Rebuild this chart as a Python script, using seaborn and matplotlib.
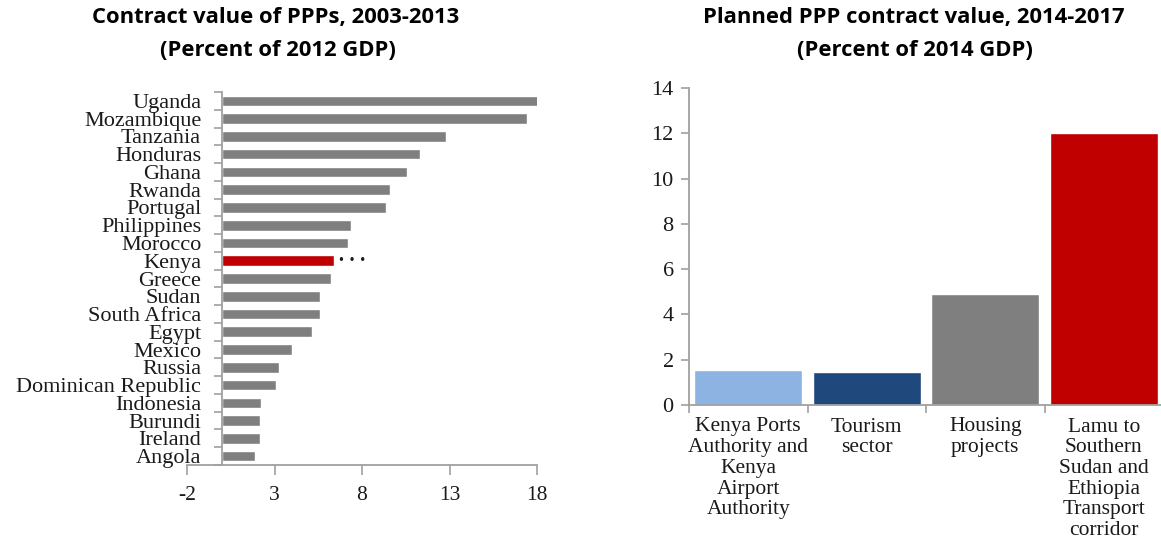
import matplotlib
matplotlib.use("Agg")
import matplotlib.pyplot as plt
import seaborn as sns
import numpy as np

# left panel data: contract value of PPPs 2003-2013 (% of 2012 GDP)
countries = ["Uganda", "Mozambique", "Tanzania", "Honduras", "Ghana", "Rwanda",
             "Portugal", "Philippines", "Morocco", "Kenya", "Greece", "Sudan",
             "South Africa", "Egypt", "Mexico", "Russia", "Dominican Republic",
             "Indonesia", "Burundi", "Ireland", "Angola"]
ppp_values = [18.1, 17.4, 12.8, 11.3, 10.55, 9.6, 9.35, 7.35, 7.2, 6.4, 6.2,
              5.6, 5.6, 5.15, 4.0, 3.25, 3.1, 2.25, 2.15, 2.15, 1.9]
left_xticks = [-2, 3, 8, 13, 18]

# right panel data: planned PPP contract value 2014-2017 (% of 2014 GDP)
projects = ["Kenya Ports\nAuthority and\nKenya\nAirport\nAuthority",
            "Tourism\nsector",
            "Housing\nprojects",
            "Lamu to\nSouthern\nSudan and\nEthiopia\nTransport\ncorridor"]
planned_values = [1.55, 1.45, 4.9, 12.0]
right_yticks = [0, 2, 4, 6, 8, 10, 12, 14]

sns.set_style("white")
plt.rcParams['font.family'] = ['Liberation Serif', 'DejaVu Serif']

GRAY = "#7F7F7F"
RED = "#C00000"
SPINE = "#A0A0A0"
TXT = "#1A1A1A"

fig = plt.figure(figsize=(11.61, 5.40), dpi=100)

# ---------------- left panel
ax1 = fig.add_axes([187/1161, 1-465/540, 350/1161, 373/540])
pal = {c: (RED if c == "Kenya" else GRAY) for c in countries}
sns.barplot(x=ppp_values, y=countries, hue=countries, palette=pal,
            orient='h', width=0.6, legend=False, saturation=1, ax=ax1)
ax1.set_xlim(-2, 18)
ax1.set_ylim(len(countries)-0.5, -0.5)
ax1.set_xticks(left_xticks)
ax1.set_xticklabels([str(v) for v in left_xticks])
for s in ["top", "right"]:
    ax1.spines[s].set_visible(False)
ax1.spines['left'].set_position(('data', 0))
for s in ["left", "bottom"]:
    ax1.spines[s].set_color(SPINE)
    ax1.spines[s].set_linewidth(1.3)
ax1.set_yticks(np.arange(-0.5, len(countries), 1), minor=True)
ax1.tick_params(axis='y', which='major', left=True, length=0, pad=15,
                labelsize=16, labelcolor=TXT)
ax1.tick_params(axis='y', which='minor', left=True, length=6, width=1.2,
                color=SPINE, direction='out')
ax1.tick_params(axis='x', which='major', bottom=True, length=7, width=1.2,
                color=SPINE, direction='out', pad=8, labelsize=15.5, labelcolor=TXT)
ax1.set_xlabel("")
ax1.set_ylabel("")
kenya_i = countries.index("Kenya")
# the three dots after the Kenya bar
ax1.text(ppp_values[kenya_i] + 0.25, kenya_i, "\u2022 \u2022 \u2022", fontsize=8.5,
         va='center', ha='left', color=TXT, family=['DejaVu Sans'])

# ---------------- right panel
ax2 = fig.add_axes([689/1161, 1-405/540, 474/1161, 317/540])
cols = {projects[0]: "#8DB3E2", projects[1]: "#1F497D",
        projects[2]: GRAY, projects[3]: RED}
sns.barplot(x=projects, y=planned_values, hue=projects, palette=cols,
            width=0.91, legend=False, saturation=1, ax=ax2)
ax2.set_xlim(-0.5, 3.5)
ax2.set_ylim(0, 14)
ax2.set_yticks(right_yticks)
for s in ["top", "right"]:
    ax2.spines[s].set_visible(False)
for s in ["left", "bottom"]:
    ax2.spines[s].set_color(SPINE)
    ax2.spines[s].set_linewidth(1.3)
ax2.set_xticks(np.arange(-0.5, len(projects), 1), minor=True)
ax2.tick_params(axis='x', which='major', bottom=True, length=0, pad=9,
                labelsize=15.5, labelcolor=TXT)
ax2.tick_params(axis='x', which='minor', bottom=True, length=6, width=1.2,
                color=SPINE, direction='out')
ax2.tick_params(axis='y', left=True, length=6, width=1.2, color=SPINE,
                direction='out', pad=5, labelsize=16, labelcolor=TXT)
for lab in ax2.get_xticklabels():
    lab.set_linespacing(1.12)
    lab.set_ha('center')
ax2.set_xlabel("")
ax2.set_ylabel("")

# ---------------- titles
tfont = dict(family=['Open Sans', 'DejaVu Sans'], fontweight='bold', fontsize=15.8,
             ha='center', va='center', color='black')
fig.text(276/1161, 1-18/540, "Contract value of PPPs, 2003-2013", **tfont)
fig.text(278/1161, 1-51/540, "(Percent of 2012 GDP)", **tfont)
fig.text(914/1161, 1-18/540, "Planned PPP contract value, 2014-2017", **tfont)
fig.text(915/1161, 1-51/540, "(Percent of 2014 GDP)", **tfont)

fig.savefig("out.png", dpi=100)
